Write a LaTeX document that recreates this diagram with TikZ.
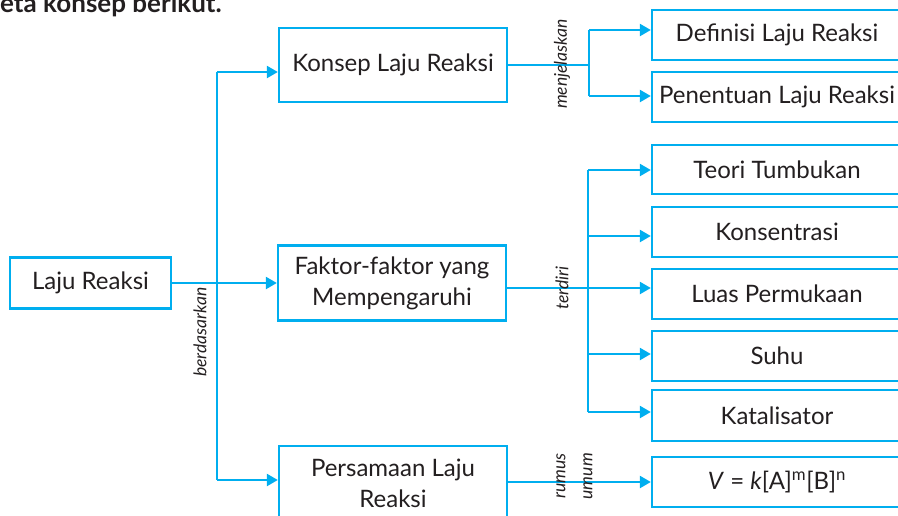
\documentclass[tikz,border=0pt]{standalone}
\usepackage{fontspec}
\setmainfont{Lato}
\usetikzlibrary{arrows.meta}
\definecolor{cy}{RGB}{0,174,239}
\definecolor{tx}{RGB}{35,31,32}
\tikzset{
  box/.style={draw=cy, line width=2.3pt, fill=white, inner sep=0pt, align=center,
    text=tx, font=\fontsize{24}{31}\selectfont},
  conn/.style={draw=cy, line width=2.3pt},
  arr/.style={conn, -{Triangle[length=11pt,width=12pt]}},
  lbl/.style={rotate=90, text=tx, inner sep=0pt, font=\fontsize{17.5}{19}\selectfont\itshape},
}
\begin{document}
\begin{tikzpicture}[x=1pt,y=-1pt]
\useasboundingbox (0,0) rectangle (898,515);
\clip (0,0) rectangle (898,515);
\node[anchor=base west, inner sep=0pt, text=tx, font=\fontsize{26}{28}\selectfont\bfseries] (title) at (0,12) {eta konsep berikut.};

% main boxes
\node[box, minimum width=161pt, minimum height=51pt] (laju) at (90.5,283) {Laju Reaksi};
\node[box, minimum width=228pt, minimum height=74pt] (konsep) at (393,65) {Konsep Laju Reaksi};
\node[box, minimum width=228pt, minimum height=75pt] (faktor) at (392,283) {Faktor-faktor yang\\Mempengaruhi};
\node[box, minimum width=228pt, minimum height=75pt] (pers) at (393,483.5) {Persamaan Laju\\Reaksi};

% right boxes
\node[box, minimum width=250pt, minimum height=50pt] (def) at (777,35) {Definisi Laju Reaksi};
\node[box, minimum width=250pt, minimum height=50pt] (pen) at (777,97) {Penentuan Laju Reaksi};
\node[box, minimum width=250pt, minimum height=49pt] (teori) at (777,169.5) {Teori Tumbukan};
\node[box, minimum width=250pt, minimum height=50pt] (kons) at (777,232) {Konsentrasi};
\node[box, minimum width=250pt, minimum height=50pt] (luas) at (777,294) {Luas Permukaan};
\node[box, minimum width=250pt, minimum height=50pt] (suhu) at (777,356) {Suhu};
\node[box, minimum width=250pt, minimum height=51pt] (kat) at (777,415.5) {Katalisator};
\node[box, minimum width=250pt, minimum height=50pt] (vbox) at (777,482) {\textit{V} = \textit{k}[A]\textsuperscript{m}[B]\textsuperscript{n}};

% berdasarkan branch
\coordinate (bTop) at (217,72);
\coordinate (bBot) at (217,480);
\draw[arr] (laju.east) -- (faktor.west);
\draw[conn] (bTop) -- (bBot);
\draw[arr] (bTop) -- (bTop -| konsep.west);
\draw[arr] (bBot) -- (bBot -| pers.west);
\node[lbl] (lb1) at (200,332) {berdasarkan};

% menjelaskan branch
\coordinate (kTop) at (589,30);
\coordinate (kMid) at (589,65);
\coordinate (kBot) at (589,96);
\draw[conn] (konsep.east) -- (kMid);
\draw[conn] (kTop) -- (kBot);
\draw[arr] (kTop) -- (kTop -| def.west);
\draw[arr] (kBot) -- (kBot -| pen.west);
\node[lbl] (lb2) at (562,64) {menjelaskan};

% terdiri branch
\coordinate (t1) at (588,170);
\coordinate (t2) at (588,236);
\coordinate (t3) at (588,288);
\coordinate (t4) at (588,354);
\coordinate (t5) at (588,412);
\draw[conn] (t1) -- (t5);
\draw[arr] (faktor.east |- t3) -- (t3 -| luas.west);
\draw[arr] (t1) -- (t1 -| teori.west);
\draw[arr] (t2) -- (t2 -| kons.west);
\draw[arr] (t4) -- (t4 -| suhu.west);
\draw[arr] (t5) -- (t5 -| kat.west);
\node[lbl] (lb3) at (562,288) {terdiri};

% rumus umum
\draw[arr] (pers.east |- vbox.west) -- (vbox.west);
\node[lbl, anchor=east] (lb4) at (561,453) {rumus};
\node[lbl, anchor=east] (lb5) at (588,453) {umum};
\end{tikzpicture}
\end{document}
